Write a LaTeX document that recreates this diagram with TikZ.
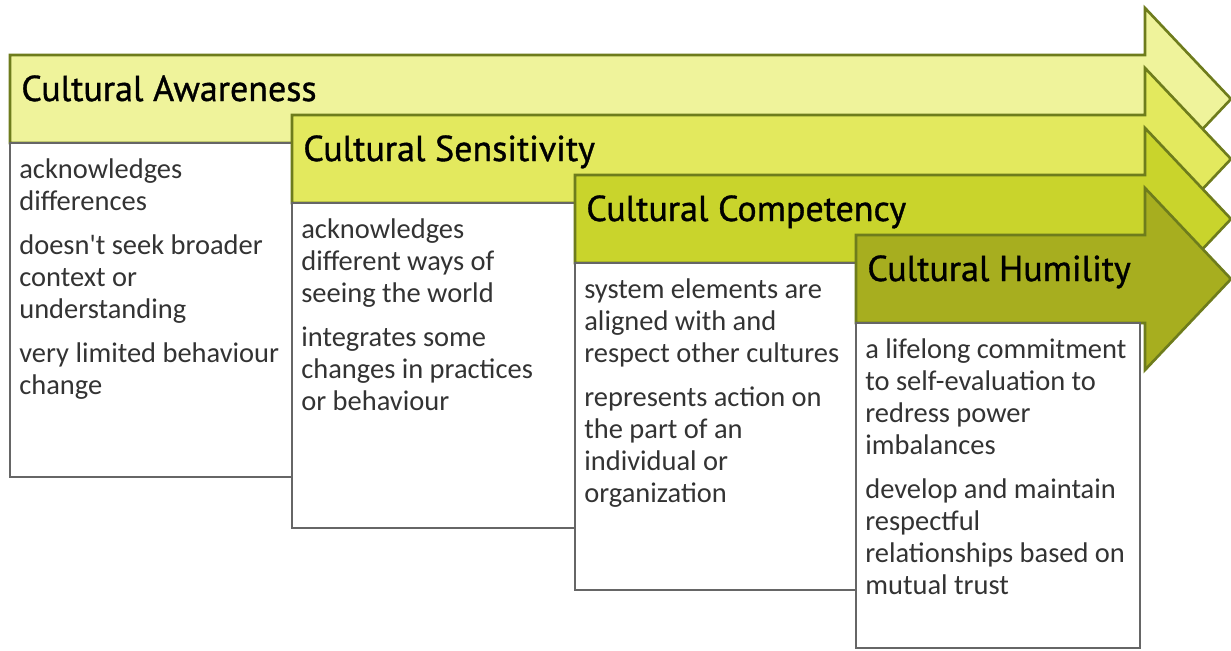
\documentclass[tikz,border=0pt]{standalone}
\usepackage{fontspec}
\setmainfont{Carlito}
\newfontfamily\headfont{PT Sans}[FakeBold=1]
\begin{document}
\begin{tikzpicture}[x=0.02cm,y=-0.02cm]
		\definecolor{rim}{HTML}{6E7C1C}
		\definecolor{aware}{HTML}{EFF39B}
		\definecolor{sensi}{HTML}{E3E95E}
		\definecolor{compe}{HTML}{C9D42C}
		\definecolor{humil}{HTML}{A7AE1F}

		\tikzstyle{olive}=[draw=rim,line width=1.5pt,line join=miter]
		\tikzstyle{stagebox}=[draw=black!60,fill=white,line width=1.2pt]
		\tikzstyle{headtext}=[anchor=base west,inner sep=0pt,font=\headfont\fontsize{20.5}{24}\selectfont]
		\tikzstyle{bodytext}=[anchor=north west,inner sep=0pt,align=left,text=black!80,font=\fontsize{16.2}{18.2}\selectfont]

		\useasboundingbox (0,0) rectangle (1231,650);

		% arrows and boxes, back to front
		\foreach \x / \y / \c / \z / \h / \t in {
			10/55/aware/1/477/Cultural Awareness,
			292/115/sensi/2/528/Cultural Sensitivity,
			575/175/compe/3/590/Cultural Competency,
			856/235/humil/4/648/Cultural Humility} {
			\draw[olive,fill=\c] (\x,\y) -- (1145,\y) -- (1145,\y-47) -- (1231,\y+44)
				-- (1145,\y+135) -- (1145,\y+88) -- (\x,\y+88) -- cycle;
			\node[headtext] (t\z) at (\x+11,\y+46) {\t};
			\draw[stagebox] (\x,\y+88) rectangle (\x+284,\h);
		}

		\node[bodytext] (b1) at (19,158) {acknowledges\\differences\\[7pt]
			doesn\textquotesingle t seek broader\\context or\\understanding\\[7pt]
			very limited behaviour\\change};
		\node[bodytext] (b2) at (301,218) {acknowledges\\different ways of\\seeing the world\\[7pt]
			integrates some\\changes in practices\\or behaviour};
		\node[bodytext] (b3) at (584,278) {system elements are\\aligned with and\\respect other cultures\\[7pt]
			represents action on\\the part of an\\individual or\\organization};
		\node[bodytext] (b4) at (865,338) {a lifelong commitment\\to self-evaluation to\\redress power\\imbalances\\[7pt]
			develop and maintain\\respectful\\relationships based on\\mutual trust};

	\end{tikzpicture}
\end{document}
